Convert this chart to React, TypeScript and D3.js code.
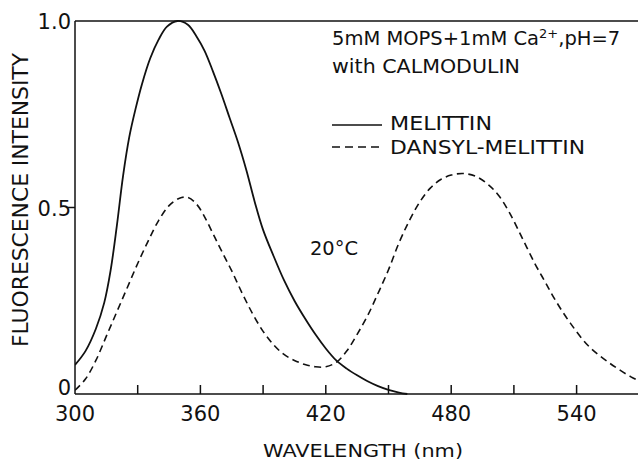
import React from "react";
import * as d3 from "d3";

const melittinWavelength = [300, 305, 310, 314, 317, 320, 323, 326, 329, 332, 336, 340, 344, 349, 354, 358, 362, 366, 370, 374, 378, 382, 386, 390, 395, 400, 405, 410, 415, 420, 425, 430, 435, 440, 445, 450, 455, 459];
const melittinIntensity = [0.078, 0.115, 0.175, 0.245, 0.33, 0.45, 0.585, 0.69, 0.765, 0.83, 0.9, 0.95, 0.985, 1.0, 0.99, 0.96, 0.92, 0.865, 0.805, 0.74, 0.675, 0.6, 0.515, 0.44, 0.37, 0.305, 0.25, 0.203, 0.16, 0.122, 0.09, 0.068, 0.05, 0.034, 0.021, 0.011, 0.004, 0];

const dansylWavelength = [300, 305, 310, 315, 320, 325, 330, 335, 340, 345, 350, 354, 358, 362, 366, 370, 375, 380, 385, 390, 395, 400, 405, 410, 415, 420, 425, 430, 435, 440, 445, 450, 455, 460, 465, 470, 475, 480, 486, 492, 498, 503, 508, 514, 520, 525, 530, 537, 546, 556, 566, 570];
const dansylIntensity = [0.01, 0.04, 0.09, 0.155, 0.22, 0.285, 0.35, 0.41, 0.465, 0.505, 0.525, 0.527, 0.51, 0.475, 0.43, 0.385, 0.33, 0.27, 0.215, 0.168, 0.132, 0.106, 0.09, 0.079, 0.073, 0.073, 0.085, 0.115, 0.16, 0.21, 0.27, 0.333, 0.405, 0.465, 0.515, 0.552, 0.575, 0.587, 0.591, 0.583, 0.56, 0.53, 0.485, 0.418, 0.35, 0.3, 0.25, 0.19, 0.127, 0.082, 0.046, 0.035];

const xTickValues = [330, 360, 390, 420, 450, 480, 510, 540];
const xTickLabels = [300, 360, 420, 480, 540];
const yTickLabels = [
  { v: 0, label: "0" },
  { v: 0.5, label: "0.5" },
  { v: 1.0, label: "1.0" },
];
const legendLabels = ["MELITTIN", "DANSYL-MELITTIN"];

const W = 638;
const H = 460;
const FONT = "DejaVu Sans, sans-serif";

export default function App() {
  const x = d3.scaleLinear().domain([300, 540]).range([75, 576.6]);
  const y = d3.scaleLinear().domain([0, 1]).range([394, 21]);
  const line = d3
    .line<[number, number]>()
    .x((d) => x(d[0]))
    .y((d) => y(d[1]))
    .curve(d3.curveCatmullRom.alpha(0.5));

  const mel = melittinWavelength.map((w, i) => [w, melittinIntensity[i]] as [number, number]);
  const dan = dansylWavelength.map((w, i) => [w, dansylIntensity[i]] as [number, number]);

  const stroke = "#111";
  return (
    <svg
      width={W}
      height={H}
      style={{ position: "absolute", left: 0, top: 0, background: "#fff" }}
      fontFamily={FONT}
    >
      <defs>
        <clipPath id="plot">
          <rect x={75} y={0} width={W - 75} height={395} />
        </clipPath>
      </defs>
      {/* frame */}
      <line x1={75} x2={W} y1={y(1)} y2={y(1)} stroke={stroke} strokeWidth={1.3} />
      <line x1={75} x2={75} y1={y(1)} y2={y(0)} stroke={stroke} strokeWidth={1.5} />
      <line x1={75} x2={W} y1={y(0)} y2={y(0)} stroke={stroke} strokeWidth={1.5} />
      {xTickValues.map((t) => (
        <line key={t} x1={x(t)} x2={x(t)} y1={y(0)} y2={y(0) - 9} stroke={stroke} strokeWidth={1.5} />
      ))}
      <line x1={67} x2={75} y1={y(0.5)} y2={y(0.5)} stroke={stroke} strokeWidth={1.5} />
      {xTickLabels.map((t) => (
        <text key={t} x={x(t)} y={421} textAnchor="middle" fontSize={21} fill={stroke}>
          {t}
        </text>
      ))}
      {yTickLabels.map((t) => (
        <text
          key={t.label}
          x={71}
          y={y(t.v) + (t.v === 0 ? 1 : 8)}
          textAnchor="end"
          fontSize={21}
          fill={stroke}
        >
          {t.label}
        </text>
      ))}
      <text
        transform={`translate(28, 200) rotate(-90)`}
        textAnchor="middle"
        fontSize={20.5}
        fill={stroke}
        textLength={294}
        lengthAdjust="spacingAndGlyphs"
      >
        FLUORESCENCE INTENSITY
      </text>
      <text x={363} y={457} textAnchor="middle" fontSize={18.5} fill={stroke} textLength={200} lengthAdjust="spacingAndGlyphs">
        WAVELENGTH (nm)
      </text>

      {/* curves */}
      <g clipPath="url(#plot)">
        <path d={line(mel) || ""} fill="none" stroke={stroke} strokeWidth={1.8} />
        <path d={line(dan) || ""} fill="none" stroke={stroke} strokeWidth={1.6} strokeDasharray="7,4.5" />
      </g>

      {/* annotations */}
      <text x={332} y={45} fontSize={19.5} fill={stroke}>
        5mM MOPS+1mM Ca<tspan dy={-7} fontSize={13}>2+</tspan>
        <tspan dy={7}>,pH=7</tspan>
      </text>
      <text x={332} y={73} fontSize={19.5} fill={stroke} textLength={188} lengthAdjust="spacingAndGlyphs">
        with CALMODULIN
      </text>
      <line x1={332} x2={382} y1={125} y2={125} stroke={stroke} strokeWidth={1.6} />
      <text x={390} y={130} fontSize={19.5} fill={stroke} textLength={102} lengthAdjust="spacingAndGlyphs">
        {legendLabels[0]}
      </text>
      <line x1={332} x2={382} y1={147} y2={147} stroke={stroke} strokeWidth={1.6} strokeDasharray="8,5" />
      <text x={390} y={154} fontSize={19.5} fill={stroke} textLength={195} lengthAdjust="spacingAndGlyphs">
        {legendLabels[1]}
      </text>
      <text x={310} y={255} fontSize={19.5} fill={stroke} textLength={48} lengthAdjust="spacingAndGlyphs">
        20°C
      </text>
    </svg>
  );
}
